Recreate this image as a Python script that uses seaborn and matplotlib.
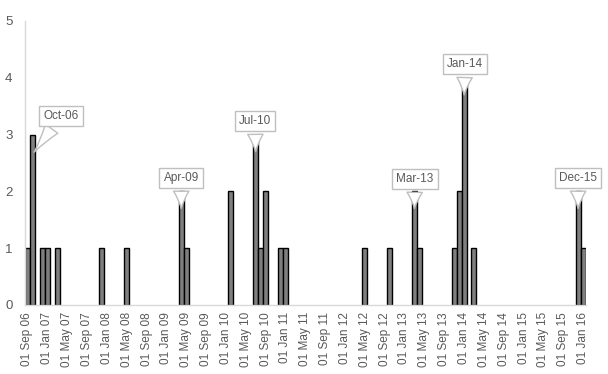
import pandas as pd
import matplotlib
matplotlib.use("Agg")
import matplotlib.pyplot as plt
import seaborn as sns

# monthly counts (only months with events)
months = ["2006-09", "2006-10", "2006-12", "2007-01", "2007-03", "2007-12",
          "2008-05", "2009-04", "2009-05", "2010-02", "2010-07", "2010-08",
          "2010-09", "2010-12", "2011-01", "2012-05", "2012-10", "2013-03",
          "2013-04", "2013-11", "2013-12", "2014-01", "2014-03", "2015-12",
          "2016-01"]
counts = [1, 3, 1, 1, 1, 1, 1, 2, 1, 2, 3, 1, 2, 1, 1, 1, 1, 2, 1, 1, 2, 4, 1, 2, 1]
callout_months = ["2006-10", "2009-04", "2010-07", "2013-03", "2014-01", "2015-12"]
axis_start = "2006-09"
axis_end = "2016-01"
tick_step = 4

sns.set_style("white")
plt.rcParams["font.family"] = ["Liberation Sans", "DejaVu Sans"]

start = pd.Period(axis_start, freq="M")
end = pd.Period(axis_end, freq="M")


def month_index(m):
    p = pd.Period(m, freq="M")
    return (p.year - start.year) * 12 + p.month - start.month


df = pd.DataFrame({"idx": [month_index(m) for m in months], "count": counts})
n_months = month_index(axis_end) + 1

fig = plt.figure(figsize=(6.08, 3.74), dpi=100)
ax = fig.add_axes([0.0411, 0.1845, 0.922, 0.7594])

sns.barplot(data=df, x="idx", y="count", native_scale=True, width=1,
            color="#7f7f7f", saturation=1, edgecolor="black", linewidth=1,
            ax=ax)

ax.set_xlim(-0.5, n_months - 0.5)
ax.set_ylim(0, 5)
ax.set_xlabel("")
ax.set_ylabel("")

grey = "#595959"
line_grey = "#d9d9d9"
for side in ["top", "right"]:
    ax.spines[side].set_visible(False)
for side in ["left", "bottom"]:
    ax.spines[side].set_color(line_grey)
    ax.spines[side].set_linewidth(1)

ax.set_yticks(range(6))
ax.tick_params(axis="y", length=4, color=line_grey, labelsize=9.5,
               labelcolor=grey, pad=5)

tick_periods = pd.period_range(start, end, freq=f"{tick_step}M")
tick_pos = [month_index(str(p)) for p in tick_periods]
ax.set_xticks(tick_pos)
ax.set_xticklabels([p.strftime("01 %b %y") for p in tick_periods],
                   rotation=90, fontsize=8.5, color=grey)
ax.tick_params(axis="x", which="major", length=0, pad=5)
ax.set_xticks([p - 0.5 for p in tick_pos] + [n_months - 0.5], minor=True)
ax.tick_params(axis="x", which="minor", length=4, color=line_grey)

# callout boxes: offset of box centre from bar (months, count units)
offsets = {"2006-10": (5.8, 0.33), "2009-04": (0.0, 0.24),
           "2010-07": (-0.1, 0.24), "2013-03": (0.1, 0.22),
           "2014-01": (0.2, 0.24), "2015-12": (0.0, 0.24)}
for m in callout_months:
    i = month_index(m)
    val = df.loc[df["idx"] == i, "count"].iloc[0]
    dx, dy = offsets[m]
    ax.annotate(pd.Period(m, freq="M").strftime("%b-%y"),
                xy=(i, val - 0.35), xytext=(i + dx, val + dy),
                ha="center", va="center", fontsize=8.5, color=grey,
                bbox=dict(boxstyle="square,pad=0.35", fc="white",
                          ec="#bfbfbf", lw=1),
                arrowprops=dict(arrowstyle="wedge,tail_width=1.3,shrink_factor=0.4",
                                fc="white", ec="#bfbfbf", lw=1),
                zorder=5)

fig.savefig("out.png", dpi=100)
